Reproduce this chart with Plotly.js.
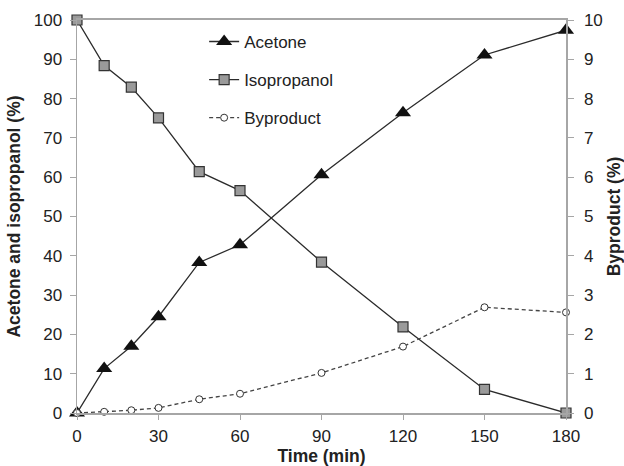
<!DOCTYPE html>
<html>
<head>
<meta charset="utf-8">
<script src="https://cdn.plot.ly/plotly-3.0.1.min.js"></script>
<style>html,body{margin:0;padding:0;background:#fff;}#chart{width:624px;height:466px;}</style>
</head>
<body>
<div id="chart"></div>
<script>
var timeMin = [0, 10, 20, 30, 45, 60, 90, 120, 150, 180];
var acetone = [0, 11.3, 17.0, 24.5, 38.3, 42.8, 60.6, 76.4, 91.1, 97.4];
var isopropanol = [100, 88.4, 82.9, 75.1, 61.4, 56.6, 38.4, 21.9, 6.0, 0];
var byproduct = [0, 0.03, 0.07, 0.13, 0.35, 0.49, 1.02, 1.69, 2.69, 2.56];
var xTicks = [0, 30, 60, 90, 120, 150, 180];

var lineColor = '#2b2b2b';
var axisColor = '#a6a6a6';
var font = 'Liberation Sans, Arial, sans-serif';

var traces = [
  {x: timeMin, y: acetone, name: 'Acetone', mode: 'lines+markers', legendgroup: 'a',
   line: {color: lineColor, width: 1.3},
   marker: {symbol: 'triangle-up', size: 14, color: '#111'}, cliponaxis: false},
  {x: timeMin, y: isopropanol, name: 'Isopropanol', mode: 'lines+markers', legendgroup: 'b',
   line: {color: lineColor, width: 1.3},
   marker: {symbol: 'square', size: 10, color: '#9a9a9a', line: {color: '#333', width: 1.2}}, cliponaxis: false},
  {x: timeMin, y: byproduct, name: 'Byproduct', mode: 'lines+markers', yaxis: 'y2', legendgroup: 'c',
   line: {color: '#444', width: 1.3, dash: '4px,3px'},
   marker: {symbol: 'circle', size: 7, color: '#fff', line: {color: '#333', width: 1}}, cliponaxis: false}
];

var layout = {
  width: 624, height: 466,
  margin: {l: 77, r: 58, t: 20, b: 53},
  paper_bgcolor: '#fff', plot_bgcolor: '#fff',
  font: {family: font, size: 17, color: '#222'},
  showlegend: true,
  legend: {x: 0.26, y: 0.99, xanchor: 'left', yanchor: 'top', traceorder: 'grouped',
           tracegroupgap: 13, font: {size: 17, family: font, color: '#222'}, bgcolor: 'rgba(0,0,0,0)'},
  xaxis: {range: [0, 180], tickvals: xTicks, ticks: 'outside', ticklen: 5, tickcolor: axisColor,
          showline: true, linecolor: axisColor, linewidth: 2, mirror: true, showgrid: false, zeroline: false,
          tickfont: {size: 17}, ticklabelstandoff: 2,
          title: {text: '<b>Time (min)</b>', font: {size: 17.5}, standoff: 4}},
  yaxis: {range: [0, 100], dtick: 10, ticks: 'outside', ticklen: 6, tickcolor: axisColor,
          showline: true, linecolor: axisColor, linewidth: 1.5, showgrid: false, zeroline: false,
          tickfont: {size: 17}, ticklabelstandoff: 4,
          title: {text: '<b>Acetone and isopropanol (%)</b>', font: {size: 17.5}, standoff: 8}},
  yaxis2: {range: [0, 10], dtick: 1, overlaying: 'y', side: 'right', ticks: 'outside', ticklen: 6,
           tickcolor: axisColor, showline: true, linecolor: axisColor, linewidth: 1.5, showgrid: false,
           zeroline: false, tickfont: {size: 17}, ticklabelstandoff: 7,
           title: {text: '<b>Byproduct (%)</b>', font: {size: 17.5}, standoff: 8}}
};

Plotly.newPlot('chart', traces, layout, {displayModeBar: false, staticPlot: true});
</script>
</body>
</html>
